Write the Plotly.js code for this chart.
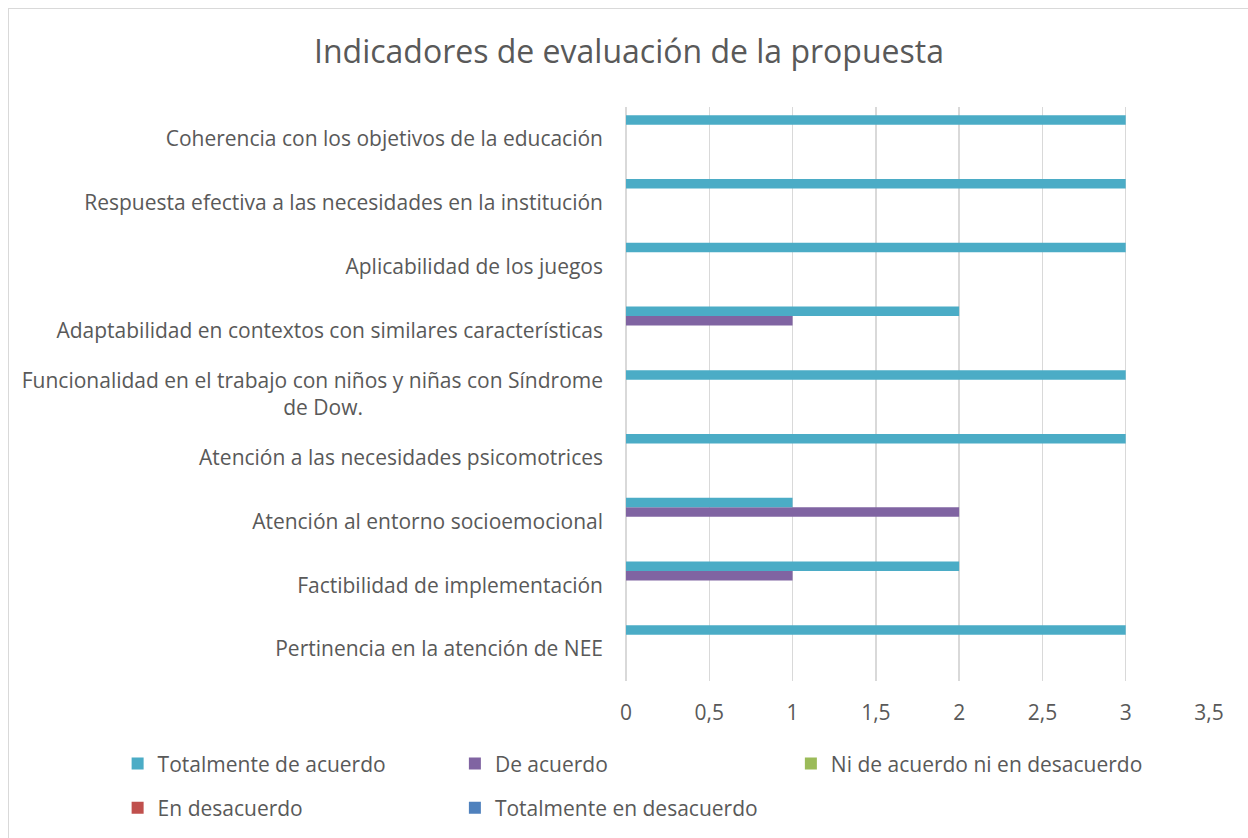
<!DOCTYPE html>
<html>
<head>
<meta charset="utf-8">
<script src="https://cdn.plot.ly/plotly-3.0.1.min.js"></script>
<style>
html,body{margin:0;padding:0;background:#fff;}
#chart{width:1248px;height:838px;position:absolute;left:0;top:0;}
#frame{position:absolute;left:8px;top:8px;width:1300px;height:900px;border:1.5px solid #D9D9D9;box-sizing:border-box;pointer-events:none;}
</style>
</head>
<body>
<div id="chart"></div>
<div id="frame"></div>
<script>
// categories bottom to top
const categories = [
  "Pertinencia en la atención de NEE",
  "Factibilidad de implementación",
  "Atención al entorno socioemocional",
  "Atención a las necesidades psicomotrices",
  "Funcionalidad en el trabajo con niños y niñas con Síndrome de Dow.",
  "Adaptabilidad en contextos con similares características",
  "Aplicabilidad de los juegos",
  "Respuesta efectiva a las necesidades en la institución",
  "Coherencia con los objetivos de la educación"
];
// displayed tick labels (the long one wraps, second line centred under the first)
const tickLabels = [
  "Pertinencia en la atención de NEE",
  "Factibilidad de implementación",
  "Atención al entorno socioemocional",
  "Atención a las necesidades psicomotrices",
  "Funcionalidad en el trabajo con niños y niñas con Síndrome<br>de Dow." + "\u00A0".repeat(44),
  "Adaptabilidad en contextos con similares características",
  "Aplicabilidad de los juegos",
  "Respuesta efectiva a las necesidades en la institución",
  "Coherencia con los objetivos de la educación"
];
const seriesNames = ["Totalmente de acuerdo","De acuerdo","Ni de acuerdo ni en desacuerdo","En desacuerdo","Totalmente en desacuerdo"];
const totalmenteDeAcuerdo = [3,2,1,3,3,2,3,3,3];
const deAcuerdo = [0,1,2,0,0,1,0,0,0];
const niDeAcuerdo = [0,0,0,0,0,0,0,0,0];
const enDesacuerdo = [0,0,0,0,0,0,0,0,0];
const totalmenteEnDesacuerdo = [0,0,0,0,0,0,0,0,0];
const xTicks = [0,0.5,1,1.5,2,2.5,3,3.5];

const colors = ["#4BACC6","#8064A2","#9BBB59","#C0504D","#4F81BD"];
const values = [totalmenteDeAcuerdo, deAcuerdo, niDeAcuerdo, enDesacuerdo, totalmenteEnDesacuerdo];

const FONT = "Open Sans, sans-serif";
const TXT = "#595959";

// legend grid: 3 columns, 2 rows
const legendX = [-0.872, -0.2935, 0.2828];
const legendY = [-0.1445, -0.2213];

const legendIds = ["legend","legend2","legend3","legend4","legend5"];

// reversed trace order so the first series sits at the top of each group
const traces = [];
for (let i = seriesNames.length - 1; i >= 0; i--) {
  traces.push({
    type: "bar",
    orientation: "h",
    name: seriesNames[i],
    y: categories,
    x: values[i],
    marker: {color: colors[i], line: {width: 0}},
    legend: legendIds[i],
    hoverinfo: "x+name"
  });
}

const layout = {
  width: 1248, height: 838,
  paper_bgcolor: "#fff", plot_bgcolor: "#fff",
  separators: ", ",
  margin: {l: 626, r: 39, t: 107, b: 157, pad: 0, autoexpand: false},
  font: {family: FONT, color: TXT, size: 21},
  title: {text: "Indicadores de evaluación de la propuesta", font: {family: FONT, size: 32, color: TXT},
          x: 0.504, xanchor: "center", y: 0.938, yanchor: "middle"},
  barmode: "group",
  bargap: 0.255,
  bargroupgap: 0,
  xaxis: {
    range: [0, 3.5], tickvals: xTicks, tickformat: ",.1~f",
    showgrid: true, gridcolor: "#D9D9D9", gridwidth: 1.5,
    zeroline: true, zerolinecolor: "#D9D9D9", zerolinewidth: 1.5,
    showline: false, ticks: "", ticklabelstandoff: 17,
    tickfont: {family: FONT, size: 21, color: TXT}
  },
  yaxis: {
    type: "category", showgrid: false, zeroline: false, showline: false,
    ticks: "", ticklabelstandoff: 22,
    tickmode: "array", tickvals: categories, ticktext: tickLabels,
    tickfont: {family: FONT, size: 21, color: TXT}
  },
  showlegend: true
};

for (let i = 0; i < seriesNames.length; i++) {
  layout[legendIds[i]] = {
    orientation: "h", xanchor: "left", yanchor: "middle",
    x: legendX[i % 3], y: legendY[Math.floor(i / 3)],
    font: {family: FONT, size: 21, color: TXT}, bgcolor: "rgba(0,0,0,0)"
  };
}

Plotly.newPlot("chart", traces, layout, {displayModeBar: false, staticPlot: true});
</script>
</body>
</html>
